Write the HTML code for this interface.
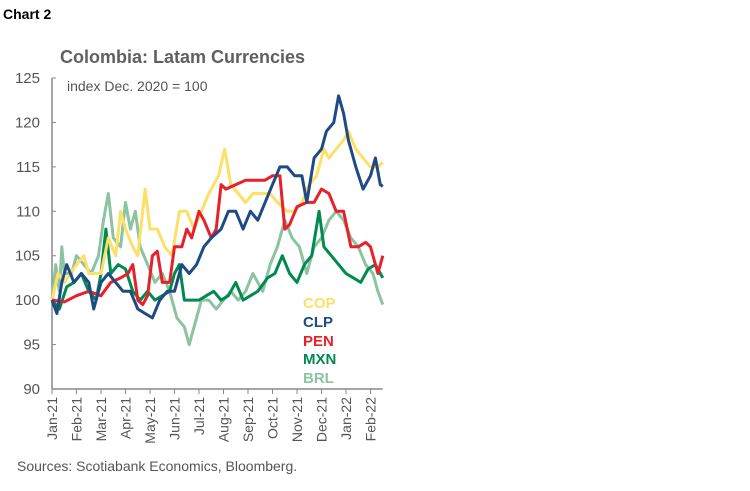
<!DOCTYPE html>
<html><head><meta charset="utf-8"><style>
body{margin:0;background:#fff;width:750px;height:486px;overflow:hidden;font-family:"Liberation Sans",sans-serif}
</style></head><body>
<svg width="750" height="486" viewBox="0 0 750 486" font-family="Liberation Sans, sans-serif">
<text x="3" y="19" font-size="14" font-weight="bold" fill="#000">Chart 2</text>
<text x="60" y="63" font-size="18" font-weight="bold" fill="#606060">Colombia: Latam Currencies</text>
<text x="67" y="91" font-size="14" fill="#555">index Dec. 2020 = 100</text>
<g id="axes"></g>
<g id="lines"></g>
<g font-size="15" font-weight="bold">
<text x="303" y="308" fill="#fce068">COP</text>
<text x="303" y="327" fill="#1f4a83">CLP</text>
<text x="303" y="346" fill="#e8202a">PEN</text>
<text x="303" y="364" fill="#008a50">MXN</text>
<text x="303" y="383" fill="#8cc3a0">BRL</text>
</g>
<text x="17" y="471" font-size="14" fill="#555">Sources: Scotiabank Economics, Bloomberg.</text>
</svg>
<script>
const yTicks=[90,95,100,105,110,115,120,125];
const monthLabels=["Jan-21","Feb-21","Mar-21","Apr-21","May-21","Jun-21","Jul-21","Aug-21","Sep-21","Oct-21","Nov-21","Dec-21","Jan-22","Feb-22"];
const copT=[0,0.25,0.5,1,1.3,1.5,2,2.3,2.6,2.8,3,3.3,3.5,3.8,4,4.3,4.6,4.9,5.2,5.5,5.8,6.1,6.4,6.8,7.05,7.3,7.6,7.9,8.2,8.5,8.9,9.2,9.6,9.9,10.2,10.5,10.8,11.1,11.3,11.6,11.9,12.1,12.4,12.7,13,13.3,13.5];
const copV=[100,103,102,104,105,103,103,107,105,110,108,106,105,112.5,108,108,106,105,110,110,108,110,112,114,117,113,112,111,112,112,112,111,110,110,111,113,114,117,116,117,118,119,117,116,115,115,115.5];
const clpT=[0,0.2,0.4,0.6,0.9,1.2,1.5,1.7,2,2.3,2.6,2.9,3.2,3.5,3.8,4.1,4.4,4.7,5,5.3,5.6,5.9,6.2,6.5,6.9,7.2,7.5,7.8,8.1,8.4,8.7,9,9.3,9.6,9.9,10.2,10.4,10.7,11,11.2,11.5,11.7,11.9,12.1,12.4,12.7,13,13.2,13.4,13.5];
const clpV=[100,98.5,102,104,102,103,102,99,102,103,102,101,101,99,98.5,98,100,101,101,104,103,104,106,107,108,110,110,108,110,109,111,113,115,115,114,114,111,116,117,119,120,123,121,118,115,112.5,114,116,113,112.8];
const penT=[0,0.5,1,1.5,2,2.4,2.8,3.1,3.3,3.5,3.7,3.9,4.1,4.3,4.5,4.8,5,5.3,5.5,5.7,6,6.2,6.5,6.7,6.9,7.1,7.5,7.9,8.3,8.7,9,9.3,9.5,9.7,10,10.4,10.7,11,11.3,11.6,11.9,12.2,12.5,12.8,13,13.3,13.5];
const penV=[100,99.8,100.5,101,100.5,102,102.5,103,104,100,99.5,100.5,105,105.5,102,102,106,106,108,107,110,109,107,108,113,112.5,113,113.5,113.5,113.5,114,114,108,108.5,110.5,111,111,112.5,112,110,110,106,106,106.5,106,103,105];
const mxnT=[0,0.3,0.6,0.9,1.2,1.5,1.8,2,2.2,2.4,2.7,3,3.3,3.6,3.9,4.2,4.5,4.8,5,5.2,5.4,5.7,6,6.3,6.6,6.9,7.2,7.5,7.8,8.1,8.4,8.8,9.1,9.4,9.7,10,10.3,10.6,10.9,11.1,11.4,11.7,12,12.3,12.6,12.9,13.2,13.5];
const mxnV=[100,99,101.5,102,103,101,100,103,108,103,104,103.5,101,100,101,100,100.5,101,103,104,100,100,100,100.5,101,100,100.5,102,100,100.5,101,102.5,103,105,103,102,104,105,110,106,105,104,103,102.5,102,103.5,104,102.5];
const brlT=[0,0.15,0.3,0.4,0.5,0.8,1,1.3,1.6,1.9,2.1,2.3,2.5,2.8,3,3.2,3.4,3.6,3.9,4.2,4.5,4.8,5.1,5.4,5.6,5.8,6.1,6.4,6.7,7,7.3,7.6,7.9,8.2,8.6,8.9,9.2,9.5,9.8,10.1,10.4,10.7,11,11.3,11.6,11.9,12.2,12.5,12.8,13.1,13.3,13.5];
const brlV=[100,104,101,106,103,103,105,104,103,105,109,112,107,106,111,108,110,106,104,102,103,101,98,97,95,97,100,100,99,100,101,100,101,103,101,104,106,109,107,106,103,106,107,109,110,109,107,106,104,103,101,99.5];
const NS="http://www.w3.org/2000/svg";
const x0=52,xStep=24.5,y90=389,yTop=78;
const xs=m=>x0+m*xStep;
const ys=v=>y90-(v-90)*(y90-yTop)/35;
const axes=document.getElementById('axes');
function mk(tag,attrs,parent){const e=document.createElementNS(NS,tag);for(const k in attrs)e.setAttribute(k,attrs[k]);parent.appendChild(e);return e;}
let yl=mk('line',{x1:x0,y1:yTop,x2:x0,y2:y90,stroke:'#888','stroke-width':1.5},axes);


let xl=mk('line',{x1:x0,y1:y90,x2:xs(13.5),y2:y90,stroke:'#888','stroke-width':1.5},axes);


yTicks.forEach(v=>{
 let tk=mk('line',{x1:x0,y1:ys(v),x2:x0+4,y2:ys(v),stroke:'#888','stroke-width':1},axes);
 
 
 let t=mk('text',{x:x0-12,y:ys(v)+5,'text-anchor':'end','font-size':15,fill:'#555'},axes);
 t.textContent=v;
 
 
});
monthLabels.forEach((lab,i)=>{
 const x=xs(i);
 let tk=mk('line',{x1:x,y1:y90,x2:x,y2:y90+5,stroke:'#888','stroke-width':1},axes);
 
 
 let t=mk('text',{x:0,y:0,'text-anchor':'end','font-size':14,fill:'#555',transform:`translate(${x+5},${y90+8}) rotate(-90)`},axes);
 t.textContent=lab;
 
 
});
const lines=document.getElementById('lines');
const series=[['brl',brlT,brlV,'#8cc3a0'],['mxn',mxnT,mxnV,'#008a50'],['cop',copT,copV,'#fce068'],['pen',penT,penV,'#e8202a'],['clp',clpT,clpV,'#1f4a83']];
series.forEach(([n,T,V,c])=>{
 const d=T.map((t,i)=>(i?'L':'M')+xs(t).toFixed(1)+','+ys(V[i]).toFixed(1)).join('');
 let p=mk('path',{d:d,fill:'none',stroke:c,'stroke-width':3,'stroke-linejoin':'round'},lines);
 
 
});
</script>
</body></html>
